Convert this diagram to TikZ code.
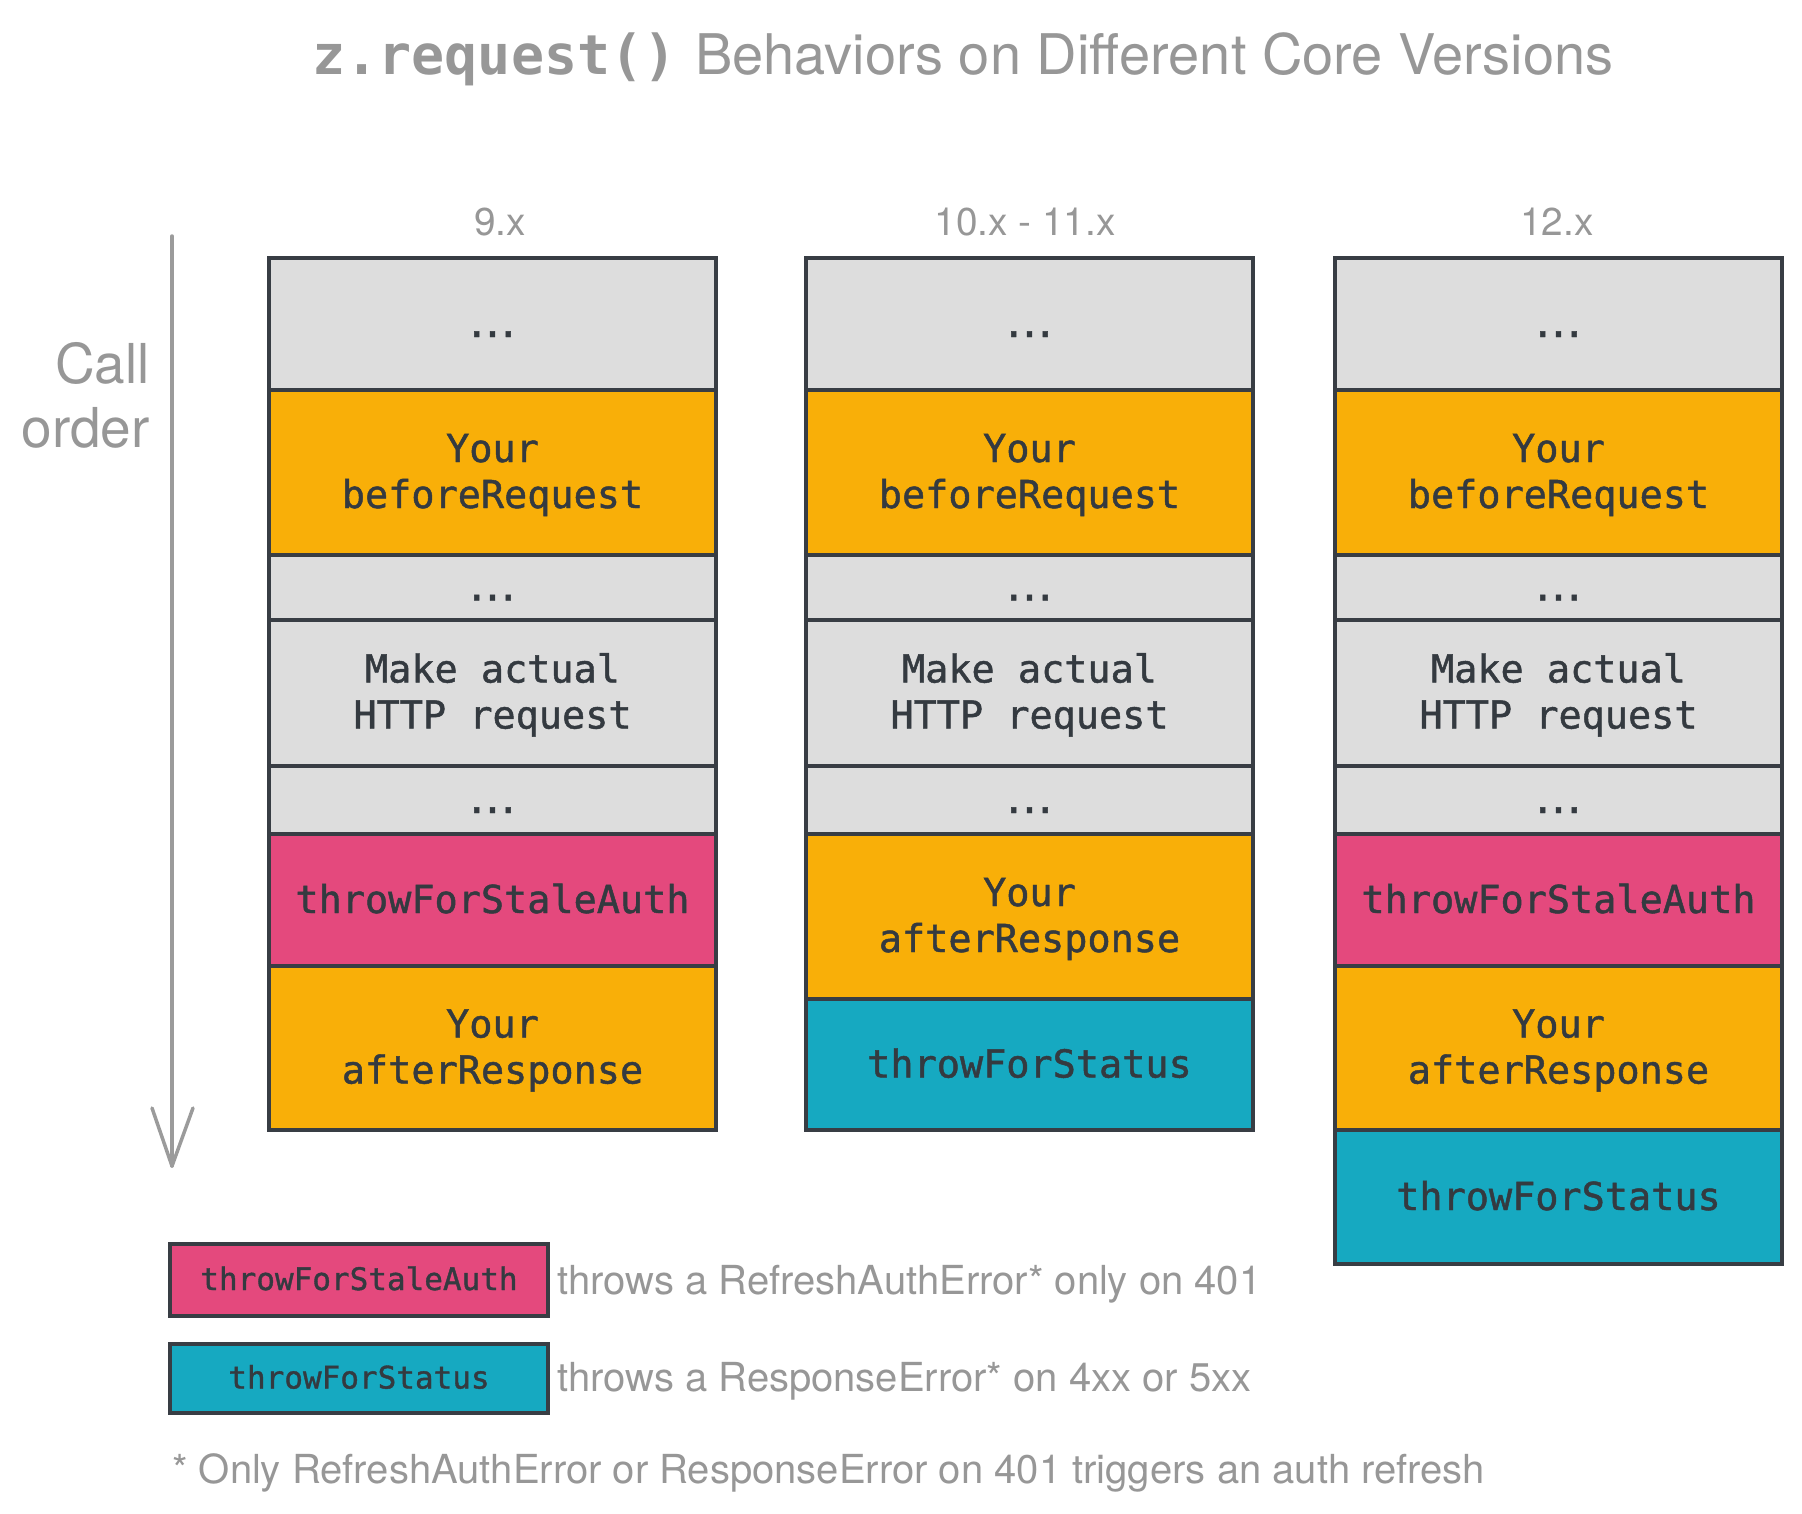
\documentclass[tikz,border=0pt]{standalone}
\usepackage{fontspec}
\setmainfont{TeX Gyre Heros}
\setmonofont{DejaVu Sans Mono}
% slightly heavier monospaced face for the call-chain labels
\newfontfamily\boxmono{DejaVu Sans Mono}[FakeBold=1.2]

\definecolor{edge}{HTML}{383D44}
\definecolor{ink}{HTML}{343A40}
\definecolor{fog}{HTML}{DDDDDD}
\definecolor{amber}{HTML}{F9AF08}
\definecolor{rose}{HTML}{E4497D}
\definecolor{cyanbox}{HTML}{16A9C1}
\definecolor{labelgray}{HTML}{979797}
\definecolor{arrowgray}{HTML}{9B9B9B}

% tightly spaced ellipsis in the monospaced face
\newcommand\mdots{.\kern-7.4pt.\kern-7.4pt.}

\begin{document}
\begin{tikzpicture}[x=1pt, y=-1pt,
  box/.style={draw=edge, line width=3.5pt, minimum width=447pt, inner sep=0pt,
    text=ink, align=center, font=\boxmono\fontsize{38.5}{46}\selectfont},
  oneline/.style={text height=26pt, text depth=0pt},
  twoline/.style={text height=71pt, text depth=0pt},
  keybox/.style={draw=edge, line width=3.5pt, minimum width=378pt, inner sep=0pt,
    text=ink, text height=20pt, text depth=0pt,
    font=\boxmono\fontsize{31}{36}\selectfont},
  graytext/.style={text=labelgray, inner sep=0pt, font=\fontsize{40}{48}\selectfont},
  header/.style={text=labelgray, inner sep=0pt, anchor=base, font=\fontsize{38.8}{46}\selectfont},
]
\useasboundingbox (0,0) rectangle (1802,1513);

% title
\node[text=labelgray, inner sep=0pt, anchor=base, font=\fontsize{56}{66}\selectfont] (title) at (963,74)
  {{\ttfamily\bfseries\fontsize{55}{66}\selectfont z.request()}\hspace{3pt} Behaviors on Different Core Versions};

% call-order axis
\node[text=labelgray, inner sep=0pt, anchor=base east, align=right, font=\fontsize{55}{64}\selectfont] (callorder) at (150,447) {Call\\order};
\coordinate (axistop) at (172,236);
\coordinate (axisend) at (172,1166);
\coordinate (barbL) at (152,1108);
\coordinate (barbR) at (193,1108);
\draw[arrowgray, line width=3.5pt, line cap=round, line join=round] (axistop) -- (axisend);
\draw[arrowgray, line width=3.5pt, line cap=round, line join=round] (barbL) -- (axisend) -- (barbR);

% column headers
\node[header] (h1) at (500,235) {9.x};
\node[header] (h2) at (1025,235) {10.x - 11.x};
\node[header] (h3) at (1557,235) {12.x};

% core 9.x
\node[box, oneline, fill=fog,   minimum height=132pt] (a1) at (492.5,324)   {\mdots};
\node[box, twoline, fill=amber, minimum height=165pt] (a2) at (492.5,472.5) {Your\\beforeRequest};
\node[box, oneline, fill=fog,   minimum height=65pt]  (a3) at (492.5,587.5) {\mdots};
\node[box, twoline, fill=fog,   minimum height=146pt] (a4) at (492.5,693)   {Make actual\\HTTP request};
\node[box, oneline, fill=fog,   minimum height=68pt]  (a5) at (492.5,800)   {\mdots};
\node[box, oneline, fill=rose,  minimum height=132pt] (a6) at (492.5,900)   {throwForStaleAuth};
\node[box, twoline, fill=amber, minimum height=164pt] (a7) at (492.5,1048)  {Your\\afterResponse};

% core 10.x - 11.x
\node[box, oneline, fill=fog,     minimum height=132pt] (b1) at (1029.5,324)    {\mdots};
\node[box, twoline, fill=amber,   minimum height=165pt] (b2) at (1029.5,472.5)  {Your\\beforeRequest};
\node[box, oneline, fill=fog,     minimum height=65pt]  (b3) at (1029.5,587.5)  {\mdots};
\node[box, twoline, fill=fog,     minimum height=146pt] (b4) at (1029.5,693)    {Make actual\\HTTP request};
\node[box, oneline, fill=fog,     minimum height=68pt]  (b5) at (1029.5,800)    {\mdots};
\node[box, twoline, fill=amber,   minimum height=165pt] (b6) at (1029.5,916.5)  {Your\\afterResponse};
\node[box, oneline, fill=cyanbox, minimum height=131pt] (b7) at (1029.5,1064.5) {throwForStatus};

% core 12.x
\node[box, oneline, fill=fog,     minimum height=132pt] (c1) at (1558.5,324)   {\mdots};
\node[box, twoline, fill=amber,   minimum height=165pt] (c2) at (1558.5,472.5) {Your\\beforeRequest};
\node[box, oneline, fill=fog,     minimum height=65pt]  (c3) at (1558.5,587.5) {\mdots};
\node[box, twoline, fill=fog,     minimum height=146pt] (c4) at (1558.5,693)   {Make actual\\HTTP request};
\node[box, oneline, fill=fog,     minimum height=68pt]  (c5) at (1558.5,800)   {\mdots};
\node[box, oneline, fill=rose,    minimum height=132pt] (c6) at (1558.5,900)   {throwForStaleAuth};
\node[box, twoline, fill=amber,   minimum height=164pt] (c7) at (1558.5,1048)  {Your\\afterResponse};
\node[box, oneline, fill=cyanbox, minimum height=134pt] (c8) at (1558.5,1197)  {throwForStatus};

% legend
\node[keybox, fill=rose,    minimum height=72pt] (k1) at (359,1280)   {throwForStaleAuth};
\node[keybox, fill=cyanbox, minimum height=69pt] (k2) at (359,1378.5) {throwForStatus};
\node[graytext, anchor=base west] (k1text) at (557,1294) {throws a RefreshAuthError* only on 401};
\node[graytext, anchor=base west] (k2text) at (557,1391) {throws a ResponseError* on 4xx or 5xx};
\node[graytext, anchor=base west] (note) at (172,1483) {* Only RefreshAuthError or ResponseError on 401 triggers an auth refresh};
\end{tikzpicture}
\end{document}
